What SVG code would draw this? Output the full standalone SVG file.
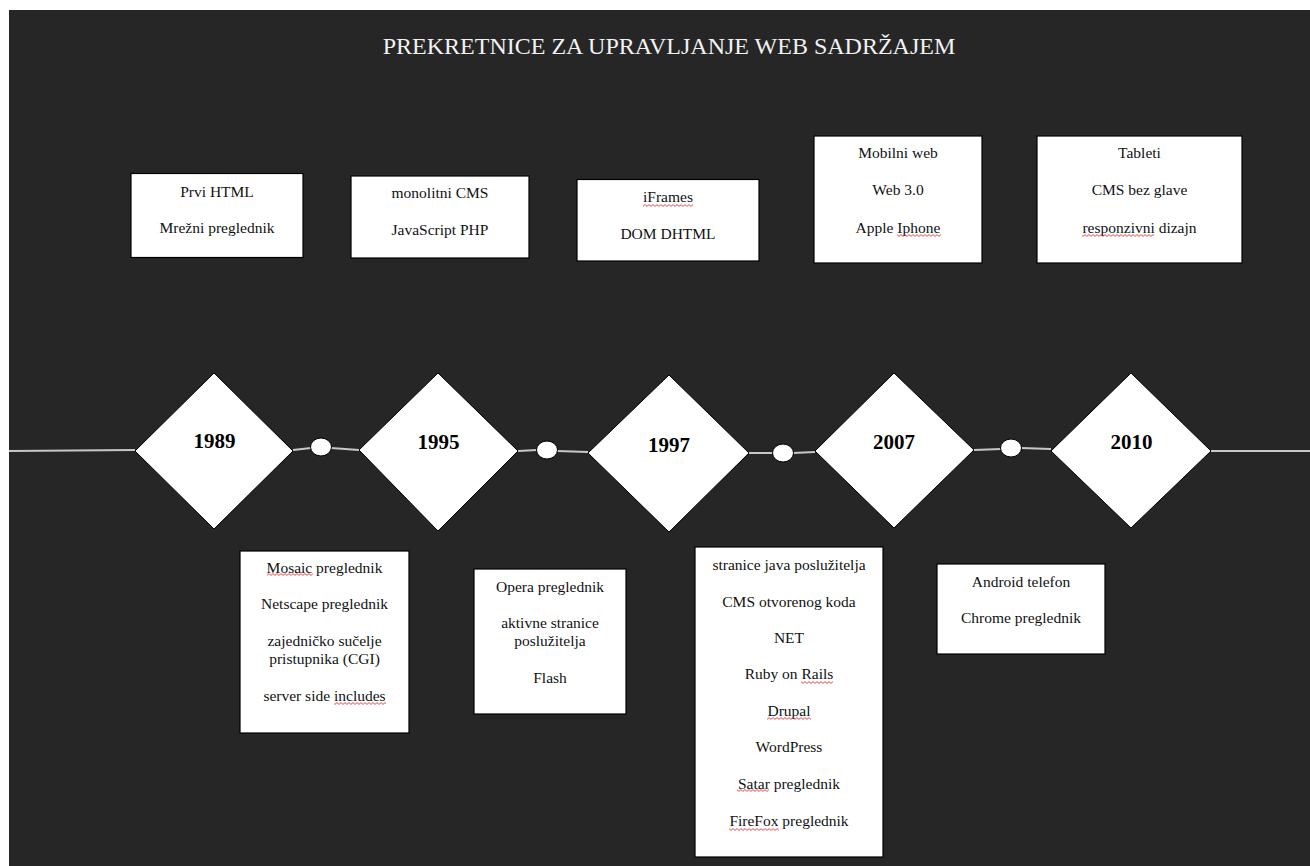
<svg xmlns="http://www.w3.org/2000/svg" width="1310" height="866" viewBox="0 0 1310 866">
<style>
.bg{fill:#262626}
.box{fill:#fff;stroke:#000;stroke-width:1.2}
.dia{fill:#fff;stroke:#000;stroke-width:1}
.dot{fill:#fff;stroke:#000;stroke-width:1}
.ln{stroke:#c8c8c8;stroke-width:2;fill:none}
.t{font-family:"Liberation Serif","Times New Roman",serif;font-size:15.5px;fill:#111;text-anchor:middle}
.yr{font-family:"Liberation Serif","Times New Roman",serif;font-size:21px;font-weight:bold;fill:#000;text-anchor:middle}
.title{font-family:"Liberation Serif","Times New Roman",serif;font-size:24px;fill:#f2f2f2;text-anchor:middle}
.sq{fill:url(#squig)}
</style>
<defs>
<pattern id="squig" x="0" y="0" width="4" height="3" patternUnits="userSpaceOnUse">
<path d="M0 1.5 Q1 -0.3 2 1.5 T4 1.5" fill="none" stroke="#e02020" stroke-width="0.8"/>
</pattern>
</defs>
<rect x="0" y="0" width="1310" height="866" fill="#fff"/>
<rect class="bg" x="9" y="10" width="1301" height="856"/>
<text class="title" x="669" y="54">PREKRETNICE ZA UPRAVLJANJE WEB SADRŽAJEM</text>

<g id="connectors">
<line class="ln" x1="9" y1="451" x2="135" y2="450"/>
<line class="ln" x1="293" y1="450" x2="311" y2="448"/>
<line class="ln" x1="331" y1="448" x2="359" y2="450"/>
<line class="ln" x1="518" y1="451" x2="537" y2="450"/>
<line class="ln" x1="557" y1="451" x2="588" y2="452"/>
<line class="ln" x1="749" y1="453" x2="773" y2="453"/>
<line class="ln" x1="793" y1="453" x2="815" y2="452"/>
<line class="ln" x1="974" y1="450" x2="1001" y2="449"/>
<line class="ln" x1="1021" y1="448" x2="1051" y2="449"/>
<line class="ln" x1="1211" y1="451" x2="1310" y2="451"/>
</g>

<g id="dot1"><ellipse class="dot" cx="321" cy="447" rx="10.5" ry="9"/></g>
<g id="dot2"><ellipse class="dot" cx="547" cy="450" rx="10.5" ry="9"/></g>
<g id="dot3"><ellipse class="dot" cx="783" cy="453" rx="10.5" ry="9"/></g>
<g id="dot4"><ellipse class="dot" cx="1011" cy="448" rx="10.5" ry="9"/></g>

<g id="y1989"><polygon class="dia" points="135,451 214,373 293,451 214,529"/><text class="yr" x="214.5" y="448">1989</text></g>
<g id="y1995"><polygon class="dia" points="359,450 438,373 518,451 438,531"/><text class="yr" x="438.5" y="449">1995</text></g>
<g id="y1997"><polygon class="dia" points="588,453 669,375 749,453 669,532"/><text class="yr" x="669" y="452">1997</text></g>
<g id="y2007"><polygon class="dia" points="815,451 894,373 974,450 894,528"/><text class="yr" x="894" y="449">2007</text></g>
<g id="y2010"><polygon class="dia" points="1051,451 1131,373 1211,451 1131,528"/><text class="yr" x="1131.5" y="449">2010</text></g>

<g id="top1989"><rect class="box" x="131" y="173.5" width="172" height="84"/>
<text class="t" x="217" y="197">Prvi HTML</text><text class="t" x="217" y="233">Mrežni preglednik</text></g>
<g id="top1995"><rect class="box" x="351" y="176" width="178" height="82"/>
<text class="t" x="440" y="198">monolitni CMS</text><text class="t" x="440" y="235">JavaScript PHP</text></g>
<g id="top1997"><rect class="box" x="577" y="179.5" width="182" height="81.5"/>
<text class="t" x="668" y="202">iFrames</text><text class="t" x="668" y="239">DOM DHTML</text>
<rect class="sq" x="643" y="204" width="50" height="3"/></g>
<g id="top2007"><rect class="box" x="814" y="136" width="168" height="127"/>
<text class="t" x="898" y="158">Mobilni web</text><text class="t" x="898" y="195">Web 3.0</text><text class="t" x="898" y="233">Apple Iphone</text>
<rect class="sq" x="897" y="234" width="44" height="3"/></g>
<g id="top2010"><rect class="box" x="1037" y="136" width="205" height="127"/>
<text class="t" x="1139.5" y="158">Tableti</text><text class="t" x="1139.5" y="195">CMS bez glave</text><text class="t" x="1139.5" y="233">responzivni dizajn</text>
<rect class="sq" x="1082" y="234" width="72" height="3"/></g>

<g id="bot1989"><rect class="box" x="240" y="551" width="169" height="182"/>
<text class="t" x="324.5" y="573">Mosaic preglednik</text>
<text class="t" x="324.5" y="609">Netscape preglednik</text>
<text class="t" x="324.5" y="646">zajedničko sučelje</text>
<text class="t" x="324.5" y="664">pristupnika (CGI)</text>
<text class="t" x="324.5" y="701">server side includes</text>
<rect class="sq" x="267" y="573" width="46" height="3"/>
<rect class="sq" x="334" y="702" width="52" height="3"/></g>
<g id="bot1995"><rect class="box" x="474" y="569" width="152" height="145"/>
<text class="t" x="550" y="592">Opera preglednik</text>
<text class="t" x="550" y="628">aktivne stranice</text>
<text class="t" x="550" y="646">poslužitelja</text>
<text class="t" x="550" y="683">Flash</text></g>
<g id="bot1997"><rect class="box" x="695" y="547" width="188" height="310"/>
<text class="t" x="789" y="570">stranice java poslužitelja</text>
<text class="t" x="789" y="607">CMS otvorenog koda</text>
<text class="t" x="789" y="643">NET</text>
<text class="t" x="789" y="679">Ruby on Rails</text>
<text class="t" x="789" y="716">Drupal</text>
<text class="t" x="789" y="752">WordPress</text>
<text class="t" x="789" y="789">Satar preglednik</text>
<text class="t" x="789" y="826">FireFox preglednik</text>
<rect class="sq" x="801" y="681" width="32" height="3"/>
<rect class="sq" x="767" y="717" width="44" height="3"/>
<rect class="sq" x="737" y="789" width="32" height="3"/>
<rect class="sq" x="729" y="828" width="50" height="3"/></g>
<g id="bot2007"><rect class="box" x="937" y="564" width="168" height="90"/>
<text class="t" x="1021" y="587">Android telefon</text>
<text class="t" x="1021" y="623">Chrome preglednik</text></g>
</svg>
